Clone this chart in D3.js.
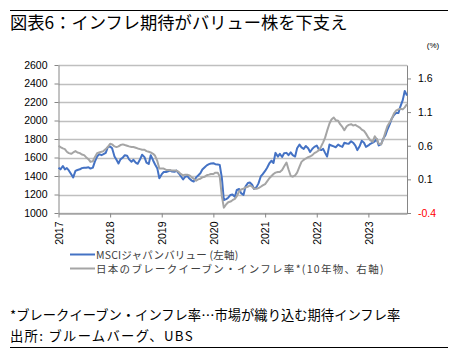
<!DOCTYPE html>
<html>
<head>
<meta charset="utf-8">
<script src="https://cdn.jsdelivr.net/npm/d3@7"></script>
<style>
  body { margin: 0; background: #fff; }
  svg { display: block; }
</style>
</head>
<body>
<script>
// semi-monthly observations, Jan 2017 - Oct 2023
const dates = [
  "2017-01-01","2017-01-15","2017-02-01","2017-02-15","2017-03-01","2017-03-15","2017-04-01","2017-04-15","2017-05-01","2017-05-15","2017-06-01","2017-06-15",
  "2017-07-01","2017-07-15","2017-08-01","2017-08-15","2017-09-01","2017-09-15","2017-10-01","2017-10-15","2017-11-01","2017-11-15","2017-12-01","2017-12-15",
  "2018-01-01","2018-01-15","2018-02-01","2018-02-15","2018-03-01","2018-03-15","2018-04-01","2018-04-15","2018-05-01","2018-05-15","2018-06-01","2018-06-15",
  "2018-07-01","2018-07-15","2018-08-01","2018-08-15","2018-09-01","2018-09-15","2018-10-01","2018-10-15","2018-11-01","2018-11-15","2018-12-01","2018-12-15",
  "2019-01-01","2019-01-15","2019-02-01","2019-02-15","2019-03-01","2019-03-15","2019-04-01","2019-04-15","2019-05-01","2019-05-15","2019-06-01","2019-06-15",
  "2019-07-01","2019-07-15","2019-08-01","2019-08-15","2019-09-01","2019-09-15","2019-10-01","2019-10-15","2019-11-01","2019-11-15","2019-12-01","2019-12-15",
  "2020-01-01","2020-01-15","2020-02-01","2020-02-15","2020-03-01","2020-03-15","2020-04-01","2020-04-15","2020-05-01","2020-05-15","2020-06-01","2020-06-15",
  "2020-07-01","2020-07-15","2020-08-01","2020-08-15","2020-09-01","2020-09-15","2020-10-01","2020-10-15","2020-11-01","2020-11-15","2020-12-01","2020-12-15",
  "2021-01-01","2021-01-15","2021-02-01","2021-02-15","2021-03-01","2021-03-15","2021-04-01","2021-04-15","2021-05-01","2021-05-15","2021-06-01","2021-06-15",
  "2021-07-01","2021-07-15","2021-08-01","2021-08-15","2021-09-01","2021-09-15","2021-10-01","2021-10-15","2021-11-01","2021-11-15","2021-12-01","2021-12-15",
  "2022-01-01","2022-01-15","2022-02-01","2022-02-15","2022-03-01","2022-03-15","2022-04-01","2022-04-15","2022-05-01","2022-05-15","2022-06-01","2022-06-15",
  "2022-07-01","2022-07-15","2022-08-01","2022-08-15","2022-09-01","2022-09-15","2022-10-01","2022-10-15","2022-11-01","2022-11-15","2022-12-01","2022-12-15",
  "2023-01-01","2023-01-15","2023-02-01","2023-02-15","2023-03-01","2023-03-15","2023-04-01","2023-04-15","2023-05-01","2023-05-15","2023-06-01","2023-06-15",
  "2023-07-01","2023-07-15","2023-08-01","2023-08-15","2023-09-01","2023-09-15","2023-10-01"
]

// MSCI Japan Value (left axis)
const msciValue = [
  1490,1472,1508,1472,1485,1460,1418,1385,1455,1465,1472,1485,1490,1490,1495,1480,1490,1555,1610,1636,1625,1636,1650,1709,
  1720,1700,1610,1575,1535,1580,1600,1625,1620,1580,1555,1575,1545,1532,1580,1630,1604,1545,1530,1625,1568,1525,1480,1375,
  1420,1443,1443,1450,1460,1448,1445,1458,1430,1400,1362,1390,1400,1372,1350,1340,1385,1405,1430,1470,1495,1515,1528,1535,
  1538,1528,1525,1520,1380,1140,1150,1165,1195,1200,1175,1250,1260,1215,1195,1285,1325,1330,1305,1260,1280,1320,1395,1420,
  1455,1490,1540,1565,1540,1650,1610,1640,1605,1645,1650,1625,1655,1625,1610,1700,1740,1710,1693,1725,1700,1660,1695,1715,
  1729,1690,1680,1693,1650,1610,1740,1730,1720,1711,1740,1725,1715,1760,1752,1748,1775,1760,1729,1680,1725,1780,1760,1715,
  1730,1748,1760,1775,1800,1730,1745,1800,1840,1900,1960,2020,2060,2080,2080,2150,2220,2320,2270
]

// Japan 10y breakeven inflation, % (right axis)
const breakeven = [
  0.60,0.58,0.56,0.55,0.51,0.49,0.48,0.50,0.52,0.50,0.49,0.47,0.46,0.43,0.40,0.36,0.37,0.43,0.49,0.50,0.51,0.52,0.55,0.58,
  0.63,0.62,0.59,0.58,0.59,0.61,0.62,0.61,0.60,0.59,0.58,0.58,0.57,0.56,0.55,0.54,0.54,0.52,0.51,0.50,0.48,0.45,0.37,0.26,
  0.26,0.26,0.24,0.24,0.24,0.23,0.23,0.23,0.21,0.18,0.16,0.17,0.17,0.16,0.13,0.11,0.08,0.10,0.11,0.13,0.14,0.16,0.17,0.18,
  0.18,0.20,0.20,0.14,-0.15,-0.32,-0.27,-0.24,-0.23,-0.21,-0.19,-0.15,-0.08,-0.05,-0.04,-0.02,-0.01,0.01,-0.01,-0.04,-0.04,-0.03,-0.01,0.01,
  0.03,0.07,0.12,0.15,0.18,0.20,0.21,0.21,0.24,0.29,0.35,0.25,0.15,0.14,0.16,0.20,0.29,0.36,0.39,0.41,0.43,0.44,0.46,0.49,
  0.51,0.53,0.59,0.65,0.72,0.82,0.93,0.99,1.02,0.98,0.97,0.92,0.88,0.83,0.89,0.91,0.92,0.90,0.91,0.89,0.87,0.84,0.82,0.78,
  0.72,0.68,0.66,0.74,0.70,0.63,0.62,0.69,0.80,0.89,0.95,1.00,1.08,1.12,1.14,1.15,1.14,1.17,1.22
]

const leftTicks = [1000, 1200, 1400, 1600, 1800, 2000, 2200, 2400, 2600]
const rightTicks = [-0.4, 0.1, 0.6, 1.1, 1.6]
const yearTicks = [2017, 2018, 2019, 2020, 2021, 2022, 2023]

const titleText = '図表6：インフレ期待がバリュー株を下支え'
const seriesNames = ['MSCIジャパンバリュー (左軸)', '日本のブレークイーブン・インフレ率*(10年物、右軸)']
const noteText = '*ブレークイーブン・インフレ率…市場が織り込む期待インフレ率'
const sourceText = '出所: ブルームバーグ、UBS'

const W = 462, H = 354
const JP = '"Noto Sans CJK JP", sans-serif'
const NUM = '"Liberation Sans", Arial, sans-serif'
const BLUE = '#4472c4', GRAY = '#a5a5a5'

const svg = d3.select('body').append('svg')
  .attr('width', W).attr('height', H)

// rules + title
svg.append('line').attr('x1', 10).attr('x2', 448).attr('y1', 10.5).attr('y2', 10.5)
  .attr('stroke', '#000').attr('stroke-width', 1.2)
svg.append('line').attr('x1', 10).attr('x2', 448).attr('y1', 347.5).attr('y2', 347.5)
  .attr('stroke', '#000').attr('stroke-width', 1.2)

svg.append('text')
  .attr('x', 10).attr('y', 29)
  .style('font-family', JP).style('font-size', '17.3px')
  .text(titleText)

// scales
const parse = d3.timeParse('%Y-%m-%d')
const dt = dates.map(parse)
const x = d3.scaleTime().domain([dt[0], dt[dt.length - 1]]).range([58.5, 407])
const yL = d3.scaleLinear().domain([1000, 2600]).range([213, 65])
const yR = d3.scaleLinear().domain([-0.4, 1.8]).range([213, 65])

// gridlines
svg.append('g').selectAll('line').data(leftTicks).join('line')
  .attr('x1', 58.5).attr('x2', 407)
  .attr('y1', d => Math.round(yL(d)) + 0.5).attr('y2', d => Math.round(yL(d)) + 0.5)
  .attr('stroke', '#bfbfbf').attr('stroke-width', 1.3)

// axes
function styleAxis(g) {
  g.select('.domain').attr('stroke', '#868686')
  g.selectAll('.tick line').attr('stroke', '#868686')
  g.selectAll('.tick text').style('font-family', NUM).style('font-size', '10.5px').attr('fill', '#000')
}

svg.append('g')
  .attr('transform', 'translate(58.5,0)')
  .call(d3.axisLeft(yL).tickValues(leftTicks).tickSize(4).tickSizeOuter(0).tickPadding(7)
    .tickFormat(d3.format('d')))
  .call(styleAxis)

svg.append('g')
  .attr('transform', 'translate(407,0)')
  .call(d3.axisRight(yR).tickValues(rightTicks).tickSize(4).tickSizeOuter(0).tickPadding(7)
    .tickFormat(d => d.toFixed(1)))
  .call(styleAxis)
  .call(g => g.selectAll('.tick text').attr('fill', d => d < 0 ? '#ff0000' : '#000'))

svg.append('g')
  .attr('transform', 'translate(0,213.5)')
  .call(d3.axisBottom(x).tickValues(yearTicks.map(y => new Date(y, 0, 1)))
    .tickFormat(d3.timeFormat('%Y')).tickSize(4).tickSizeOuter(0))
  .call(styleAxis)
  .call(g => g.selectAll('.tick text')
    .attr('transform', 'rotate(-90)')
    .attr('text-anchor', 'end')
    .attr('x', -8).attr('y', 0).attr('dy', '0.35em'))

svg.append('text')
  .attr('x', 433).attr('y', 48)
  .attr('text-anchor', 'middle')
  .style('font-family', NUM).style('font-size', '8px')
  .text('(%)')

// series
const lineL = d3.line().x((d, i) => x(dt[i])).y(d => yL(d))
const lineR = d3.line().x((d, i) => x(dt[i])).y(d => yR(d))

svg.append('path').datum(msciValue)
  .attr('d', lineL).attr('fill', 'none')
  .attr('stroke', BLUE).attr('stroke-width', 2).attr('stroke-linejoin', 'round')

svg.append('path').datum(breakeven)
  .attr('d', lineR).attr('fill', 'none')
  .attr('stroke', GRAY).attr('stroke-width', 2).attr('stroke-linejoin', 'round')

// legend
const legend = svg.append('g')
seriesNames.forEach((name, i) => {
  const ly = 254.5 + i * 14
  legend.append('line')
    .attr('x1', 70).attr('x2', 95).attr('y1', ly).attr('y2', ly)
    .attr('stroke', i === 0 ? BLUE : GRAY).attr('stroke-width', 2)
  legend.append('text')
    .attr('x', 96).attr('y', ly + 4)
    .style('font-family', JP).style('font-size', '10.5px')
    .style('letter-spacing', i === 0 ? '0.2px' : '1.3px')
    .attr('fill', '#404040')
    .text(name)
})

// footnotes
svg.append('text')
  .attr('x', 10).attr('y', 320)
  .style('font-family', JP).style('font-size', '13.3px')
  .text(noteText)

svg.append('text')
  .attr('x', 10).attr('y', 341)
  .style('font-family', JP).style('font-size', '13.3px')
  .style('letter-spacing', '1.3px')
  .text(sourceText)
</script>
</body>
</html>
